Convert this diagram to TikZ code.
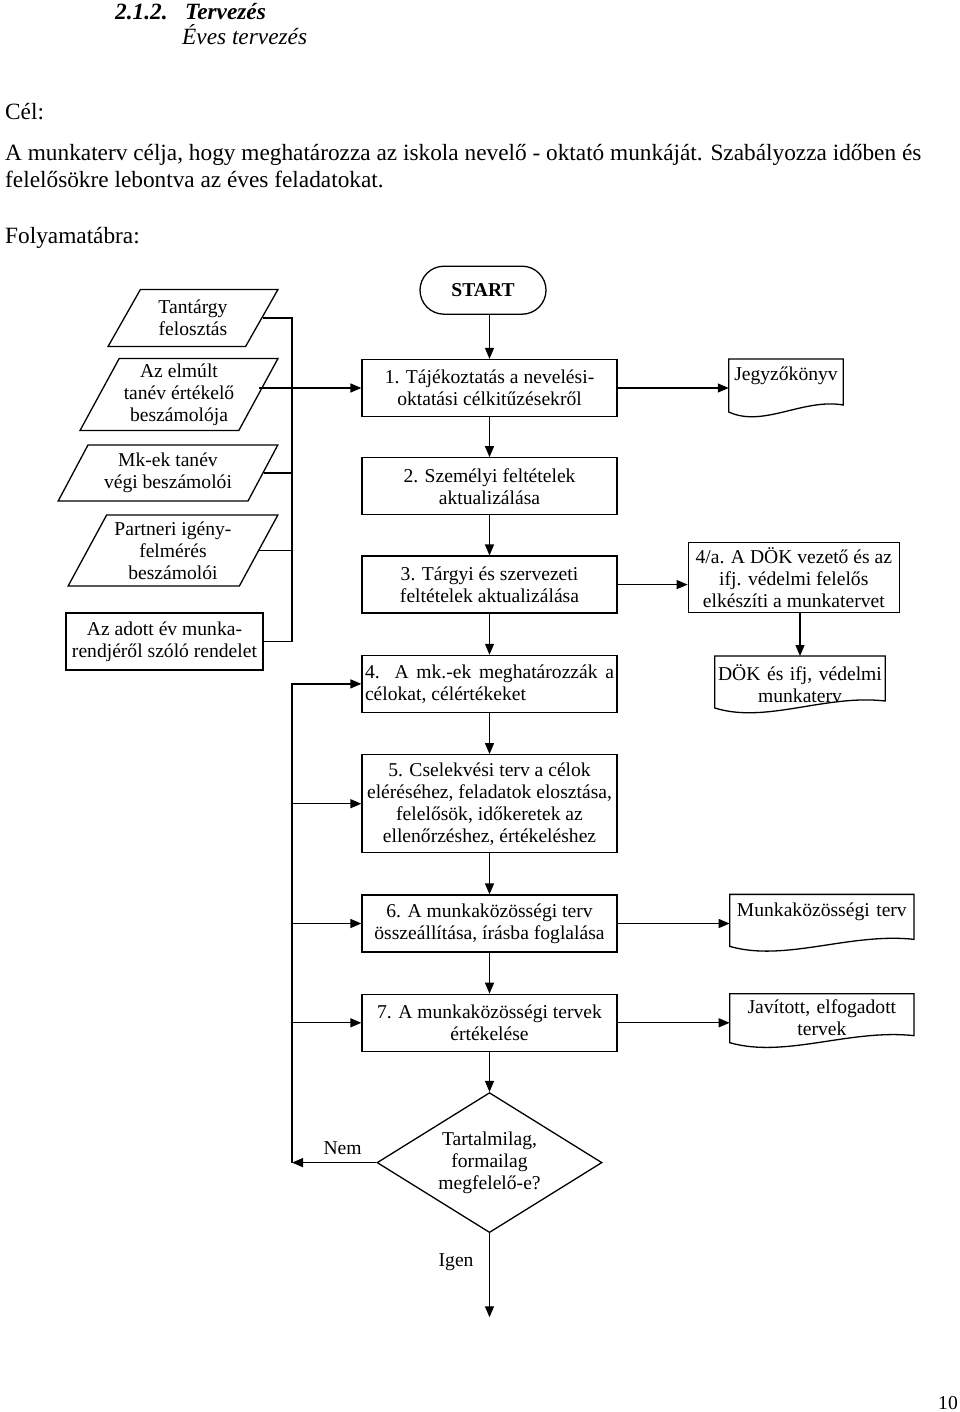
\documentclass[tikz,border=0pt]{standalone}
\usepackage{fontspec}
\setmainfont{Liberation Serif}
\usetikzlibrary{shapes.geometric, arrows.meta, positioning, calc}

% wavy "document" outline round a named node: #1 node, #2 height
\newcommand{\docoutline}[2]{%
  \draw[docline] (#1.north west) -- ($(#1.north west)+(0,#2)$)
    .. controls ($(#1.north west)!0.3!(#1.north east)+(0,#2+16)$)
    and ($(#1.north west)!0.65!(#1.north east)+(0,#2-14)$)
    .. ($(#1.north east)+(0,#2-7)$) -- (#1.north east) -- cycle;}

\begin{document}
\begin{tikzpicture}[
        x=1pt, y=-1pt,
        node distance=40pt and 112pt,
        % Styles
        boxtext/.style={font=\fontsize{19.6}{22}\selectfont},
        process/.style={
            rectangle, draw, line width=1.3pt, boxtext,
            minimum width=255pt, minimum height=57pt,
            inner sep=3pt, align=center
        },
        terminal/.style={
            rectangle, rounded corners=24pt, draw, line width=1.3pt,
            font=\fontsize{19.6}{22}\selectfont\bfseries,
            minimum width=126pt, minimum height=48pt
        },
        datain/.style={
            trapezium, trapezium left angle=60, trapezium right angle=120,
            trapezium stretches=true, draw, line width=1.3pt,
            boxtext, align=center, inner sep=1pt
        },
        document/.style={
            rectangle, boxtext, align=center,
            inner xsep=3pt, inner ysep=8pt, anchor=north
        },
        decision/.style={
            diamond, aspect=1.6, draw, line width=1.3pt,
            boxtext, align=center, inner sep=2pt,
            minimum width=225pt, minimum height=140pt
        },
        bodytext/.style={font=\fontsize{23.3}{26.5}\selectfont, inner sep=0pt, anchor=base west},
        docline/.style={line width=1.3pt},
        line/.style={line width=1.3pt},
        arrow/.style={line, -{Triangle[length=11pt, width=9pt]}}
    ]

        \useasboundingbox (0,0) rectangle (960,1412);
        \fill[white] (0,0) rectangle (960,1412);

        % Heading and text
        \node[bodytext] (secnum) at (115,20) {\bfseries\itshape 2.1.2.};
        \node[bodytext] (sectitle) at (185,20) {\bfseries\itshape Tervezés};
        \node[bodytext] (subtitle) at (182,45) {\itshape Éves tervezés};
        \node[bodytext] (cel) at (5,120) {Cél:};
        \node[bodytext] (celtexta) at (5,161) {A munkaterv célja, hogy meghatározza az iskola nevelő - oktató munkáját. Szabályozza időben és};
        \node[bodytext] (celtextb) at (5,188) {felelősökre lebontva az éves feladatokat.};
        \node[bodytext] (folyam) at (5,244) {Folyamatábra:};
        \node[bodytext, anchor=base east, boxtext] (pagenum) at (958,1409) {10};

        % Main steps
        \node[process] (box1) at (489.5,388) {1. Tájékoztatás a nevelési-\\oktatási célkitűzésekről};
        \node[terminal, above=44pt of box1, xshift=-6.5pt] (start) {START};
        \node[process, below=of box1] (box2) {2. Személyi feltételek\\aktualizálása};
        \node[process, below=40pt of box2] (box3) {3. Tárgyi és szervezeti\\feltételek aktualizálása};
        \node[process, below=41pt of box3, text width=249pt, align=justify] (box4) {4. A mk.-ek meghatározzák a\linebreak célokat, célértékeket};
        \node[process, below=41pt of box4, minimum height=98pt] (box5) {5. Cselekvési terv a célok\\eléréséhez, feladatok elosztása,\\felelősök, időkeretek az\\ellenőrzéshez, értékeléshez};
        \node[process, below=41pt of box5] (box6) {6. A munkaközösségi terv\\összeállítása, írásba foglalása};
        \node[process, below=41pt of box6] (box7) {7. A munkaközösségi tervek\\értékelése};
        \node[decision, below=40pt of box7] (dec) {Tartalmilag,\\formailag\\megfelelő-e?};
        \coordinate[below=84pt of dec.south] (igenend);

        % Inputs
        \node[datain, minimum width=170pt, minimum height=57pt] (tantargy) at (193,318) {Tantárgy\\felosztás};
        \node[datain, minimum width=198pt, minimum height=72pt] (elmult) at (179,394.5) {Az elmúlt\\tanév értékelő\\beszámolója};
        \node[datain, minimum width=220pt, minimum height=56pt] (mkek) at (168,473) {Mk-ek tanév\\végi beszámolói};
        \node[datain, minimum width=210pt, minimum height=71pt] (partneri) at (173,550.5) {Partneri igény-\\felmérés\\beszámolói};
        \node[process, minimum width=197pt, minimum height=57pt] (rendelet) at (164.5,641.5) {Az adott év munka-\\rendjéről szóló rendelet};
        \coordinate (bus) at (292,0);

        % Outputs
        \node[document, text width=108pt] (jkv) at (786,359) {Jegyzőkönyv};
        \docoutline{jkv}{53}
        \node[process, right=70pt of box3, yshift=7pt, minimum width=211pt, minimum height=70pt] (box4a) {4/a. A DÖK vezető és az\\ifj. védelmi felelős\\elkészíti a munkatervet};
        \node[document, text width=164pt] (dok) at (800,656) {DÖK és ifj, védelmi\\munkaterv};
        \docoutline{dok}{52}
        \node[document, text width=178pt, anchor=north west] (munk) at ([xshift=112pt]box6.north east) {Munkaközösségi terv};
        \docoutline{munk}{52}
        \node[document, text width=178pt, anchor=north west, inner ysep=6pt] (javitott) at ([xshift=112pt]box7.north east) {Javított, elfogadott\\tervek};
        \docoutline{javitott}{49}

        % Connections
        \draw[arrow] (box1.north |- start.south) -- (box1.north);
        \foreach \a/\b in {box1/box2, box2/box3, box3/box4, box4/box5, box5/box6, box6/box7, box7/dec}
            \draw[arrow] (\a.south) -- (\b.north);
        \draw[arrow] (dec.south) -- node[left=12pt, pos=0.35, boxtext] {Igen} (igenend);

        % Input bus
        \draw[line] (tantargy.east) -| (rendelet.east -| bus) -- (rendelet.east);
        \draw[arrow] (elmult.east |- box1.west) -- (box1.west);
        \foreach \n in {mkek, partneri}
            \draw[line] (\n.east) -- (\n.east -| bus);

        % Side outputs
        \draw[arrow] (box1.east) -- (box1.east -| jkv.west);
        \draw[arrow] (box3.east) -- (box3.east -| box4a.west);
        \draw[arrow] (dok.north |- box4a.south) -- (dok.north);
        \draw[arrow] (box6.east) -- (box6.east -| munk.west);
        \draw[arrow] (box7.east) -- (box7.east -| javitott.west);

        % Feedback
        \draw[arrow] (dec.west) -- node[above=4pt, pos=0.4, boxtext] {Nem} (dec.west -| bus);
        \draw[arrow] (dec.west -| bus) |- (box4.west);
        \foreach \b in {box5, box6, box7}
            \draw[arrow] (\b.west -| bus) -- (\b.west);

    \end{tikzpicture}
\end{document}
